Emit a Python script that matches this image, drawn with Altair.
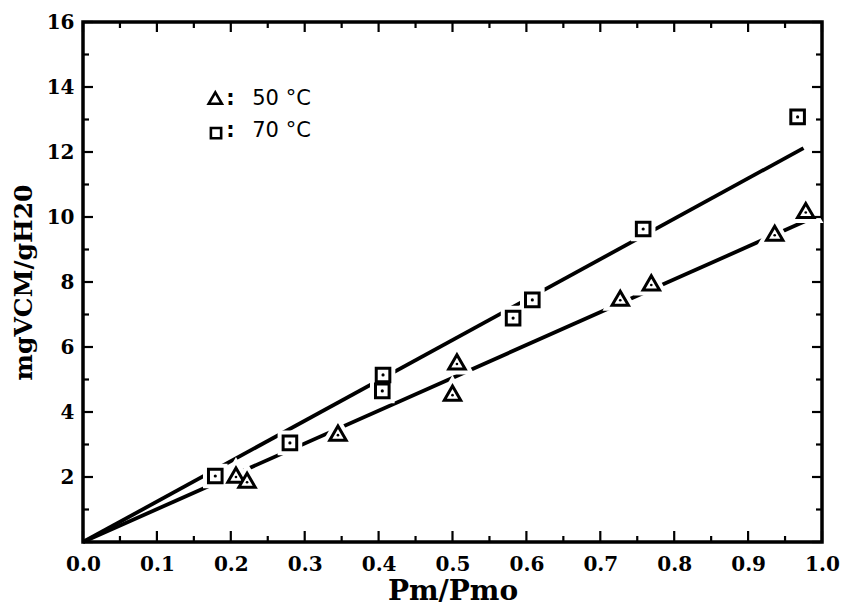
import altair as alt
import pandas as pd

# VCM uptake at 70 °C (squares)
p70 = [0.179, 0.280, 0.405, 0.406, 0.582, 0.608, 0.758, 0.967]
m70 = [2.03, 3.05, 4.65, 5.14, 6.89, 7.45, 9.63, 13.08]

# VCM uptake at 50 °C (triangles)
p50 = [0.207, 0.222, 0.345, 0.500, 0.506, 0.727, 0.769, 0.936, 0.978]
m50 = [2.06, 1.90, 3.35, 4.58, 5.54, 7.50, 7.97, 9.50, 10.20]

# straight fits through the origin
fit70_x = [0.0, 0.975]
fit70_y = [0.0, 12.12]
fit50_x = [0.0, 0.980]
fit50_y = [0.0, 9.90]

# tick positions
x_major = [0.0, 0.1, 0.2, 0.3, 0.4, 0.5, 0.6, 0.7, 0.8, 0.9, 1.0]
x_minor = [0.05, 0.15, 0.25, 0.35, 0.45, 0.55, 0.65, 0.75, 0.85, 0.95]
y_major = [0, 2, 4, 6, 8, 10, 12, 14, 16]
y_minor = [1, 3, 5, 7, 9, 11, 13, 15]

# key in the upper left
key_symbols = ["triangle-up", "square"]
key_labels = ["50 °C", "70 °C"]
key_sym_x = [0.179, 0.180]
key_sym_y = [13.66, 12.58]
key_colon_x = [0.194, 0.194]
key_text_x = [0.229, 0.229]
key_text_y = [13.45, 12.46]

W, H = 739, 520
FONT = "DejaVu Serif"

xs = alt.Scale(domain=[0, 1], nice=False, zero=False)
ys = alt.Scale(domain=[0, 16], nice=False, zero=False)

pts70 = pd.DataFrame({"p": p70, "m": m70})
pts50 = pd.DataFrame({"p": p50, "m": m50})
fits = pd.concat([
    pd.DataFrame({"p": fit70_x, "m": fit70_y, "s": "70"}),
    pd.DataFrame({"p": fit50_x, "m": fit50_y, "s": "50"}),
])

base_x = alt.X("p:Q", scale=xs, axis=alt.Axis(
    values=x_major, format=".1f", title="Pm/Pmo",
    labelFont=FONT, labelFontWeight="bold", labelFontSize=20, labelColor="black",
    labelPadding=12, labelFlush=False, ticks=False, domain=False, grid=False,
    titleFont=FONT, titleFontWeight="bold", titleFontSize=28, titleColor="black",
    titlePadding=3))
base_y = alt.Y("m:Q", scale=ys, axis=alt.Axis(
    values=y_major, title="mgVCM/gH20",
    labelExpr="datum.value == 0 ? '' : datum.label",
    labelFont=FONT, labelFontWeight="bold", labelFontSize=20, labelColor="black",
    labelPadding=9, labelFlush=False, ticks=False, domain=False, grid=False,
    titleFont=FONT, titleFontWeight="bold", titleFontSize=25, titleColor="black",
    titlePadding=10))

lines = alt.Chart(fits).mark_line(color="black", strokeWidth=3.8, strokeCap="butt").encode(
    x=base_x, y=base_y, detail="s:N")


def markers(df, shape, size):
    halo = alt.Chart(df).mark_point(shape=shape, size=size, filled=False,
                                    stroke="white", strokeWidth=11, opacity=1).encode(
        x=alt.X("p:Q", scale=xs), y=alt.Y("m:Q", scale=ys))
    sym = alt.Chart(df).mark_point(shape=shape, size=size, fill="white",
                                   stroke="black", strokeWidth=3, opacity=1).encode(
        x=alt.X("p:Q", scale=xs), y=alt.Y("m:Q", scale=ys))
    return halo, sym


halo70, sym70 = markers(pts70, "square", 185)
halo50, sym50 = markers(pts50, "triangle-up", 270)

dot70 = alt.Chart(pts70).mark_point(shape="circle", size=10, filled=True,
                                    color="black", opacity=1).encode(
    x=alt.X("p:Q", scale=xs), y=alt.Y("m:Q", scale=ys))
dot50 = alt.Chart(pts50).mark_point(shape="circle", size=7, filled=True,
                                    color="black", opacity=1, yOffset=2).encode(
    x=alt.X("p:Q", scale=xs), y=alt.Y("m:Q", scale=ys))


def xticks(vals, length, top):
    df = pd.DataFrame({"v": vals})
    if top:
        y1, y2 = 0, length
    else:
        y1, y2 = H, H - length
    return alt.Chart(df).mark_rule(color="black", strokeWidth=2.2).encode(
        x=alt.X("v:Q", scale=xs), y=alt.value(y1), y2=alt.value(y2))


def yticks(vals, length, right):
    df = pd.DataFrame({"v": vals})
    if right:
        x1, x2 = W, W - length
    else:
        x1, x2 = 0, length
    return alt.Chart(df).mark_rule(color="black", strokeWidth=2.2).encode(
        y=alt.Y("v:Q", scale=ys), x=alt.value(x1), x2=alt.value(x2))


ticks = [
    xticks(x_major, 11, False), xticks(x_minor, 6, False),
    xticks(x_major, 10, True), xticks(x_minor, 6, True),
    yticks(y_major, 10, False), yticks(y_minor, 6, False),
    yticks(y_major, 10, True), yticks(y_minor, 6, True),
]

key = pd.DataFrame({
    "shape": key_symbols, "label": key_labels,
    "sx": key_sym_x, "sy": key_sym_y,
    "cx": key_colon_x, "tx": key_text_x, "ty": key_text_y,
})


def key_symbol(shape, size):
    return alt.Chart(key).transform_filter(
        alt.datum.shape == shape
    ).mark_point(shape=shape, size=size, fill="white", stroke="black",
                 strokeWidth=2.6, opacity=1).encode(
        x=alt.X("sx:Q", scale=xs), y=alt.Y("sy:Q", scale=ys))


key_tri = key_symbol("triangle-up", 175)
key_sq = key_symbol("square", 105)
key_colon = alt.Chart(key).mark_text(text=":", font="DejaVu Sans", fontSize=21,
                                     fontWeight="bold", align="left",
                                     baseline="alphabetic", color="black").encode(
    x=alt.X("cx:Q", scale=xs), y=alt.Y("ty:Q", scale=ys))
key_text = alt.Chart(key).mark_text(font="DejaVu Sans", fontSize=21, align="left",
                                    baseline="alphabetic", color="black").encode(
    x=alt.X("tx:Q", scale=xs), y=alt.Y("ty:Q", scale=ys), text="label:N")

chart = alt.layer(
    lines, halo70, halo50, sym70, sym50, dot70, dot50, *ticks,
    key_tri, key_sq, key_colon, key_text,
).properties(
    width=W, height=H,
    autosize=alt.AutoSizeParams(type="none"),
    padding={"left": 83, "top": 22, "right": 21, "bottom": 69},
    background="white",
).configure_view(stroke="black", strokeWidth=3.5)

chart.save("out.html", embed_options={"renderer": "svg", "actions": False})
